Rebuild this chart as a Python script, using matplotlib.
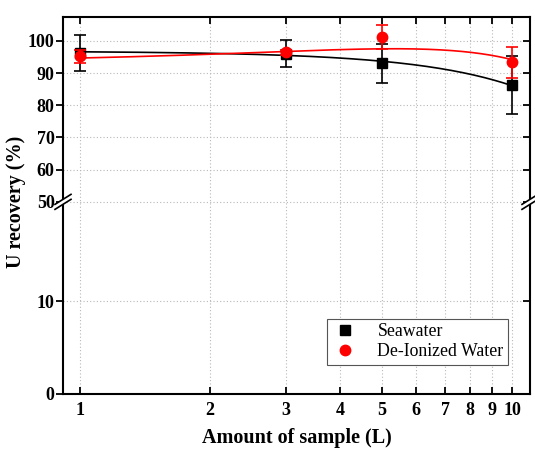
import numpy as np
import matplotlib
matplotlib.use("Agg")
import matplotlib.pyplot as plt
from matplotlib.ticker import FixedLocator, FixedFormatter, NullFormatter
from matplotlib.container import ErrorbarContainer

# ---- data ----
x_vals = [1, 3, 5, 10]
sea_y = [96.3, 96.0, 93.0, 86.3]
sea_err = [5.6, 4.2, 6.0, 9.0]
diw_y = [95.3, 96.5, 101.3, 93.4]
diw_err = [2.0, 0.8, 3.7, 4.8]
x_ticks = [1, 2, 3, 4, 5, 6, 7, 8, 9, 10]
x_ticklabels = ["1", "2", "3", "4", "5", "6", "7", "8", "9", "10"]
y_ticks = [0, 10, 50, 60, 70, 80, 90, 100]
y_ticklabels = ["0", "10", "50", "60", "70", "80", "90", "100"]

plt.rcParams['font.family'] = ['Liberation Serif', 'DejaVu Serif']

# ---- broken y scale ----
A = 9.3    # px per unit, lower part
Bs = 3.22  # px per unit, upper part
BRK = 192.0 / A
EPS = 0.01
BASE = BRK * A + EPS * (50 - BRK)

def fwd(y):
    y = np.asarray(y, dtype=float)
    return np.where(y <= BRK, y * A,
                    np.where(y >= 50, BASE + (y - 50) * Bs,
                             BRK * A + (y - BRK) * EPS))

def inv(p):
    p = np.asarray(p, dtype=float)
    return np.where(p <= BRK * A, p / A,
                    np.where(p >= BASE, 50 + (p - BASE) / Bs,
                             BRK + (p - BRK * A) / EPS))

fig = plt.figure(figsize=(5.35, 4.49), dpi=100)
ax = fig.add_axes([63/535, 55/449, 467/535, 377/449])
ax.set_xscale('log')
ax.set_yscale('function', functions=(fwd, inv))
ax.set_xlim(0.913, 11.0)
ax.set_ylim(0, 107.45)

# fitted curves (weighted quadratic fit to the data)
xf = np.linspace(1, 10, 200)
cs = np.polyfit(x_vals, sea_y, 2, w=1/np.array(sea_err))
cd = np.polyfit(x_vals, diw_y, 2, w=1/np.array(diw_err))
ax.plot(xf, np.polyval(cs, xf), color='black', lw=1.2, zorder=3)
ax.plot(xf, np.polyval(cd, xf), color='red', lw=1.2, zorder=3)

ax.errorbar(x_vals, sea_y, yerr=sea_err, fmt='s', color='black', ms=6.5,
            capsize=4, elinewidth=1.2, capthick=1.2, zorder=4, label='Seawater')
ax.errorbar(x_vals, diw_y, yerr=diw_err, fmt='o', color='red', ms=7.5,
            capsize=4, elinewidth=1.2, capthick=1.2, zorder=5, label='De-Ionized Water')

# ticks
ax.xaxis.set_major_locator(FixedLocator(x_ticks))
ax.xaxis.set_major_formatter(FixedFormatter(x_ticklabels))
ax.xaxis.set_minor_locator(FixedLocator([]))
ax.xaxis.set_minor_formatter(NullFormatter())
ax.yaxis.set_major_locator(FixedLocator(y_ticks))
ax.yaxis.set_major_formatter(FixedFormatter(y_ticklabels))
ax.yaxis.set_minor_locator(FixedLocator([]))

for lab in ax.get_xticklabels() + ax.get_yticklabels():
    lab.set_fontweight('bold')
    lab.set_fontsize(13)

ax.tick_params(axis='x', which='both', direction='in', top=True, length=5, width=1.3, pad=6)
ax.tick_params(axis='y', which='both', direction='out', length=5, width=1.3, pad=1)
ax.tick_params(axis='y', which='both', right=True)
for t in ax.yaxis.get_major_ticks():
    t.tick2line.set_marker(matplotlib.lines.TICKLEFT)

ax.grid(True, which='major', linestyle=(0, (1, 2)), color='#b8b8b8', lw=0.8)
for s in ax.spines.values():
    s.set_linewidth(1.5)

ax.set_xlabel('Amount of sample (L)', fontsize=14.5, fontweight='bold', labelpad=6)
ax.set_ylabel('U recovery (%)', fontsize=14.5, fontweight='bold')
ax.yaxis.set_label_coords(-0.079, 0.51)

# break marks
yb = ax.transData.transform((1, 50))[1]
yb_ax = ax.transAxes.inverted().transform((0, yb))[1]
for xa in (0.0, 1.0):
    dx, dy = 8/467, 5/377
    g = 2.5/377
    ax.add_patch(plt.Polygon([[xa-dx, yb_ax-dy-g+0.002], [xa+dx, yb_ax+dy-g+0.002],
                              [xa+dx, yb_ax+dy+g-0.002], [xa-dx, yb_ax-dy+g-0.002]],
                             closed=True, transform=ax.transAxes, color='white',
                             clip_on=False, zorder=10))
    for off in (-g, g):
        ax.plot([xa-dx, xa+dx], [yb_ax-dy+off, yb_ax+dy+off], color='black', lw=1.2,
                transform=ax.transAxes, clip_on=False, zorder=11)

handles, labels = ax.get_legend_handles_labels()
h2 = [h[0] if isinstance(h, ErrorbarContainer) else h for h in handles]
leg = ax.legend(h2, labels, loc='lower right', bbox_to_anchor=(0.953, 0.078), fontsize=12.8,
                frameon=True, fancybox=False, edgecolor='#555555', framealpha=1,
                handletextpad=1.0, borderpad=0.25, labelspacing=0.15, handlelength=1.6,
                borderaxespad=0)
leg.get_frame().set_linewidth(0.8)

fig.savefig('out.png', dpi=100)
